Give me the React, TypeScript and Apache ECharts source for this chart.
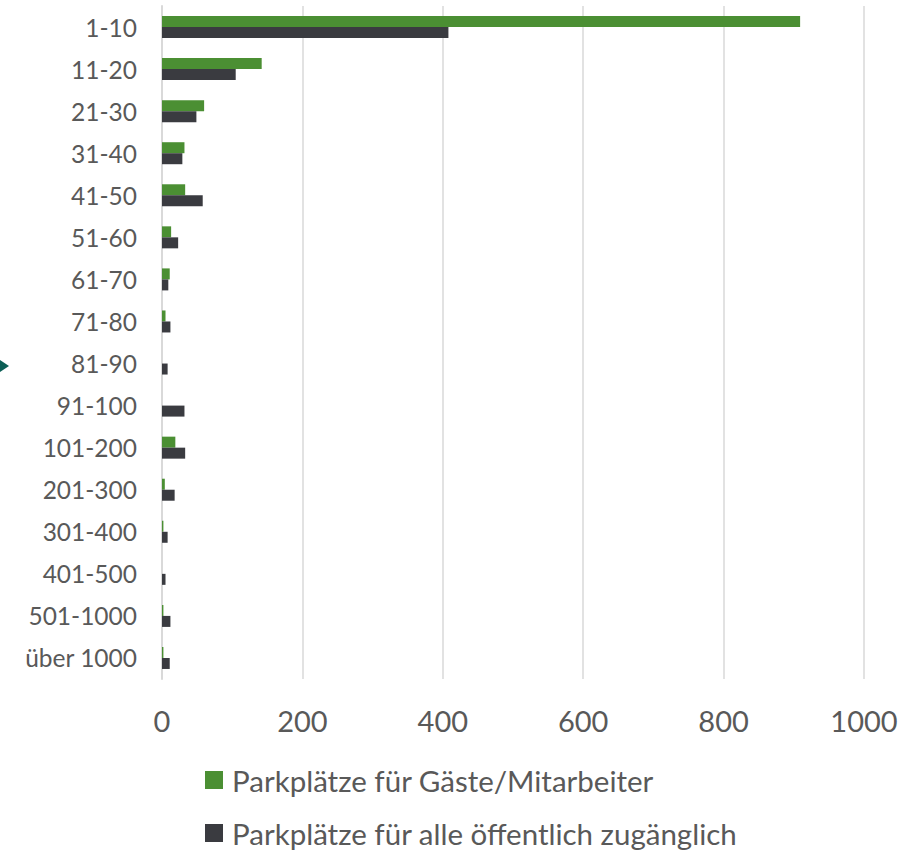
import React, { useEffect, useRef } from "react";
import * as echarts from "echarts";

const categories = [
  "1-10", "11-20", "21-30", "31-40", "41-50", "51-60", "61-70", "71-80",
  "81-90", "91-100", "101-200", "201-300", "301-400", "401-500", "501-1000", "über 1000",
];
const seriesNames = ["Parkplätze für Gäste/Mitarbeiter", "Parkplätze für alle öffentlich zugänglich"];
const guestsStaff = [909, 142, 60, 32, 33, 13, 11, 5, 0, 0, 19, 4, 2, 0, 2, 2];
const publicAccess = [408, 105, 49, 29, 58, 23, 9, 12, 8, 32, 33, 18, 8, 5, 12, 11];
const xTicks = { min: 0, max: 1000, interval: 200 };

const FONT = "Lato";
const TEXT = "#595959";

export default function App() {
  const ref = useRef<HTMLDivElement>(null);
  useEffect(() => {
    if (!ref.current) return;
    const chart = echarts.init(ref.current, null, { renderer: "svg" });
    const legendBase = {
      orient: "vertical",
      left: 205,
      padding: 0,
      itemWidth: 18,
      itemHeight: 18,
      icon: "rect",
      textStyle: { fontSize: 29.5, color: TEXT, fontFamily: FONT, padding: [0, 0, 0, 4] },
    };
    chart.setOption({
      animation: false,
      textStyle: { fontFamily: FONT },
      grid: { left: 162, top: 6, width: 702, height: 673, containLabel: false },
      xAxis: {
        type: "value",
        min: xTicks.min,
        max: xTicks.max,
        interval: xTicks.interval,
        axisLine: { show: false },
        axisTick: { show: false },
        splitLine: { show: true, lineStyle: { color: "#d9d9d9", width: 1.5 } },
        axisLabel: {
          fontSize: 29,
          color: TEXT,
          margin: 27,
          fontFamily: FONT,
          formatter: (v: number) => String(v),
        },
      },
      yAxis: {
        type: "category",
        data: categories,
        inverse: true,
        axisLine: { show: true, lineStyle: { color: "#d9d9d9", width: 2 } },
        axisTick: { show: false },
        axisLabel: { fontSize: 24.5, color: TEXT, margin: 25, fontFamily: FONT },
      },
      legend: [
        { ...legendBase, top: 765, data: [seriesNames[0]] },
        { ...legendBase, top: 818, data: [seriesNames[1]] },
      ],
      graphic: [
        {
          type: "polygon",
          shape: { points: [[0, 360], [9, 366], [0, 372]] },
          style: { fill: "#0b5e55" },
        },
      ],
      series: [
        {
          name: seriesNames[0],
          type: "bar",
          data: guestsStaff,
          barWidth: 11,
          barGap: "0%",
          itemStyle: { color: "#4b8f33" },
        },
        {
          name: seriesNames[1],
          type: "bar",
          data: publicAccess,
          barWidth: 11,
          barGap: "0%",
          itemStyle: { color: "#3a3b40" },
        },
      ],
    });
    return () => chart.dispose();
  }, []);
  return (
    <div
      ref={ref}
      style={{ position: "absolute", left: 0, top: 0, width: 922, height: 850 }}
    />
  );
}
